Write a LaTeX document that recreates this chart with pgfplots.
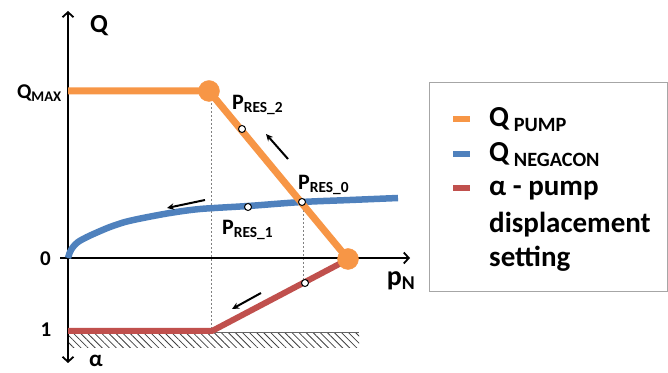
\documentclass[border=0pt]{standalone}
\usepackage{pgfplots}
\pgfplotsset{compat=1.18}
\usepackage{fontspec}
\setmainfont{Carlito}
\usetikzlibrary{patterns.meta,arrows.meta}
\definecolor{qorange}{HTML}{F79646}
\definecolor{qblue}{HTML}{4F81BD}
\definecolor{qred}{HTML}{C0504D}
\newcommand{\fs}[1]{\fontsize{#1bp}{#1bp}\selectfont}
\begin{document}
\begin{tikzpicture}
\begin{axis}[width=668bp,height=373bp,scale only axis,
  xmin=0,xmax=668,ymin=0,ymax=373,axis lines=none,clip=false,
  font=\bfseries]
% hatch
\fill[pattern={Lines[angle=-45,distance=5bp,line width=0.8bp]},pattern color=black!75] (axis cs:68,25) rectangle (axis cs:359,40);
\draw[black!60,line width=1bp] (axis cs:68,40)--(axis cs:359,40);
% dashed guides
\draw[gray,line width=0.5bp,dash pattern=on 2bp off 2bp] (axis cs:211,282)--(axis cs:211,42);
\draw[gray,line width=0.5bp,dash pattern=on 2bp off 2bp] (axis cs:303,171)--(axis cs:303,90);
% axes
\draw[line width=1.8bp,-{Straight Barb[length=5bp,width=11bp,line width=1.8bp]}] (axis cs:60,115)--(axis cs:410,115);
\draw[line width=1.8bp,{Straight Barb[length=5bp,width=11bp,line width=1.8bp]}-{Straight Barb[length=5bp,width=11bp,line width=1.8bp]}] (axis cs:68,10)--(axis cs:68,362);
% curves
\addplot[qblue,line width=6.5bp,smooth] coordinates {(68,115)(70,121)(73,126)(78,131)(87,136)(98,141)(110,146)(125,151)(143,155)(170,160)(200,164)(248,167)(302,171)(350,173)(398,175)};
\addplot[qred,line width=6bp,line join=round] coordinates {(68,42)(212,42)(343,111)};
\addplot[qorange,line width=7bp,line join=round] coordinates {(68,282)(209,282)(348,114)};
\addplot[qorange,only marks,mark=*,mark size=10.5bp] coordinates {(209,282)(348,114)};
\addplot[only marks,mark=*,mark size=3.5bp,mark options={fill=white,draw=black,line width=1bp}] coordinates {(242,244)(248,166)(302,171)(305,90)};
% direction arrows
\draw[line width=2bp,-{Stealth[length=7bp,width=6.5bp]}] (axis cs:288,214)--(axis cs:266,239);
\draw[line width=2bp,-{Stealth[length=7bp,width=6.5bp]}] (axis cs:205,173)--(axis cs:167,165);
\draw[line width=2bp,-{Stealth[length=7bp,width=6.5bp]}] (axis cs:261,80)--(axis cs:232,64);
% axis labels
\node[font=\bfseries\fs{26}] at (axis cs:99,347) {Q};
\node[anchor=east,font=\bfseries\fs{21},inner sep=1bp] at (axis cs:63,280) {Q\textsubscript{MAX}};
\node[font=\bfseries\fs{21}] at (axis cs:45.5,114) {0};
\node[font=\bfseries\fs{21}] at (axis cs:46,43) {1};
\node[anchor=base,font=\bfseries\fs{23},inner sep=0pt] at (axis cs:96,6.5) {α};
\node[font=\bfseries\fs{28}] at (axis cs:401,92) {p\textsubscript{N}};
\node[anchor=west,font=\bfseries\fs{22},inner sep=1bp] at (axis cs:231,268) {P\textsubscript{RES\_2}};
\node[anchor=west,font=\bfseries\fs{22},inner sep=1bp] at (axis cs:297,188) {P\textsubscript{RES\_0}};
\node[anchor=west,font=\bfseries\fs{22},inner sep=1bp] at (axis cs:221,143) {P\textsubscript{RES\_1}};
% legend
\draw[gray!70,line width=1bp] (axis cs:429,81) rectangle (axis cs:667,290);
\draw[qorange,line width=6bp] (axis cs:453,254)--(axis cs:470,254);
\draw[qblue,line width=6bp] (axis cs:453,219)--(axis cs:470,219);
\draw[qred,line width=6bp] (axis cs:453,185)--(axis cs:470,185);
\node[anchor=base west,font=\bfseries\fs{29},inner sep=1bp] at (axis cs:488,246) {Q\,\textsubscript{PUMP}};
\node[anchor=base west,font=\bfseries\fs{29},inner sep=1bp] at (axis cs:488,211) {Q\,\textsubscript{NEGACON}};
\node[anchor=base west,font=\bfseries\fs{29},inner sep=1bp] at (axis cs:488,177) {α - pump};
\node[anchor=base west,font=\bfseries\fs{29},inner sep=1bp] at (axis cs:488,140) {displacement};
\node[anchor=base west,font=\bfseries\fs{29},inner sep=1bp] at (axis cs:488,106) {setting};
\end{axis}
\pgfresetboundingbox
\path (0,0) rectangle (668bp,373bp);
\end{tikzpicture}
\end{document}
